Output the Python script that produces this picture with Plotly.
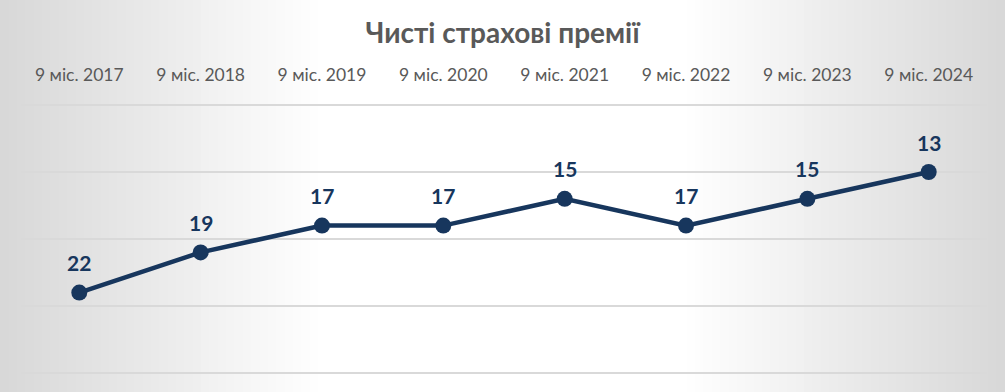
import plotly.graph_objects as go

categories = ["9 міс. 2017", "9 міс. 2018", "9 міс. 2019", "9 міс. 2020",
              "9 міс. 2021", "9 міс. 2022", "9 міс. 2023", "9 міс. 2024"]
rank_values = [22, 19, 17, 17, 15, 17, 15, 13]
title_text = "Чисті страхові премії"

LINE = "#17365d"
FONT = "Lato, 'Open Sans', sans-serif"
W, H = 1005, 392
ML, MR, MT, MB = 21, 18, 101, 15
PW = W - ML - MR
PH = H - MT - MB

fig = go.Figure()
fig.add_trace(go.Scatter(
    x=categories, y=rank_values, mode="lines+markers",
    line=dict(color=LINE, width=4.5),
    marker=dict(color=LINE, size=16),
    cliponaxis=False, hoverinfo="skip",
))

# data labels above the points
annotations = [
    dict(x=c, y=v, xref="x", yref="y", text=str(v), showarrow=False,
         yanchor="middle", yshift=30,
         font=dict(family=FONT, size=21, color=LINE, weight="bold"))
    for c, v in zip(categories, rank_values)
]

# horizontal gradient background over the whole page (grey edges, white centre)
shapes = []
n = 120
for i in range(n):
    px0 = W * i / n
    px1 = W * (i + 1) / n
    d = abs((px0 + px1) / 2 / W - 0.5)
    if d <= 0.18:
        c = 255
    else:
        c = int(round(255 - (d - 0.18) / 0.32 * 40))
    shapes.append(dict(type="rect", xref="paper", yref="paper",
                       x0=(px0 - ML) / PW, x1=(px1 + 1 - ML) / PW,
                       y0=-MB / PH - 0.05, y1=1 + MT / PH + 0.05,
                       fillcolor=f"rgb({c},{c},{c})", line=dict(width=0),
                       layer="below"))

fig.update_layout(
    width=W, height=H,
    margin=dict(l=ML, r=MR, t=MT, b=MB),
    paper_bgcolor="#ffffff", plot_bgcolor="rgba(0,0,0,0)",
    showlegend=False,
    title=dict(text=title_text, x=0.5, xanchor="center", y=1 - 33 / H, yanchor="middle",
               font=dict(family=FONT, size=28, color="#595959", weight="bold")),
    xaxis=dict(side="top", showgrid=False, zeroline=False, showline=False,
               ticks="outside", ticklen=12, tickcolor="rgba(0,0,0,0)",
               tickfont=dict(family=FONT, size=17.5, color="#595959"),
               automargin=False, fixedrange=True),
    yaxis=dict(range=[28.3, 7.7], tick0=8, dtick=5, showticklabels=False,
               showgrid=True, gridcolor="#d9d9d9", gridwidth=2,
               zeroline=False, showline=False, automargin=False, fixedrange=True),
    shapes=shapes,
    annotations=annotations,
)
fig.write_html("out.html", config={"displayModeBar": False},
               post_script="document.body.style.margin='0';")
